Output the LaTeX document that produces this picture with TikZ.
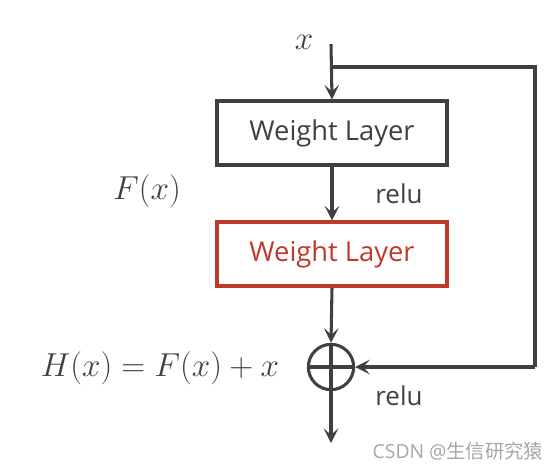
\documentclass[tikz,border=0pt]{standalone}
\usepackage{fontspec}
\setsansfont{Open Sans}
\newfontfamily\cjkfont{Noto Sans CJK SC}
\usetikzlibrary{arrows.meta}
\definecolor{dk}{HTML}{404040}
\definecolor{rd}{HTML}{C0392B}
\begin{document}
\begin{tikzpicture}[x=0.75pt,y=-0.75pt,
  line width=2.3pt, draw=dk,
  arr/.style={-{Stealth[length=11pt,width=11pt,inset=5pt]}},
  layer/.style={draw, line width=2.3pt, minimum width=172.5pt, minimum height=48pt, inner sep=0pt,
    font=\sffamily\fontsize{20.5}{22}\selectfont},
  lbl/.style={font=\sffamily\fontsize{19.5}{21}\selectfont, text=dk, inner sep=0pt},
  mth/.style={font=\fontsize{30.5}{32}\selectfont, text=dk, inner sep=0pt}]
\useasboundingbox (0,0) rectangle (559,469);
\node[layer, text=dk, draw=dk] (w1) at (332,133) {Weight Layer};
\node[layer, text=rd, draw=rd] (w2) at (332,254) {Weight Layer};
\node[draw=dk, circle, line width=2.3pt, minimum size=34pt, inner sep=0pt] (plus) at (331,367) {};
\draw[dk] (plus.north) -- (plus.south);
\draw[dk] (plus.west) -- (plus.east);
\coordinate (top) at (331,44);
\coordinate (br) at (331,67);
\coordinate (rt) at (535,67);
\coordinate (rb) at (535,367);
\coordinate (out) at (331,443);
\draw[dk, arr] (top) -- (w1.north);
\draw[dk, line join=miter] (br) -- (rt) -- (rb);
\draw[dk, arr] (rb) -- (plus.east);
\draw[dk, arr] (w1.south) -- (w2.north);
\draw[dk, arr] (w2.south) -- (plus.north);
\draw[dk, arr] (plus.south) -- (out);
\node[mth] (xl) at (304,42) {$x$};
\node[mth] (fx) at (147,191) {$F(x)$};
\node[mth] (hx) at (160,368) {$H(x)=F(x)+x$};
\node[lbl] (r1) at (399,194) {relu};
\node[lbl] (r2) at (399,396) {relu};
\node[font=\sffamily\fontsize{14.5}{16}\selectfont, text=gray!70, inner sep=0pt] (wm) at (458,451) {CSDN @{\cjkfont 生信研究猿}};
\end{tikzpicture}
\end{document}
